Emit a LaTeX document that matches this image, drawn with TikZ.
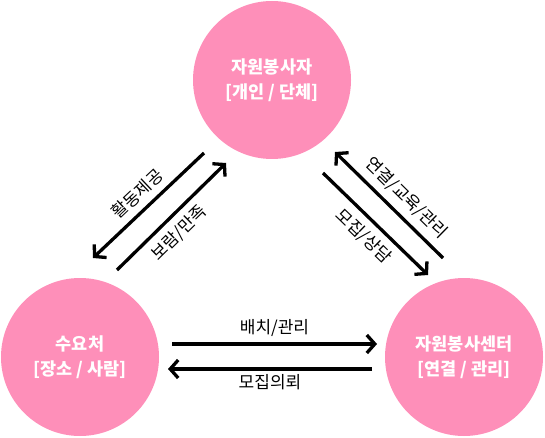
\documentclass[tikz,border=0pt]{standalone}
\usepackage{fontspec}
\setmainfont{Noto Sans CJK KR}
\usetikzlibrary{arrows.meta,positioning,calc}
\definecolor{vcpink}{HTML}{FE8FB9}
\tikzset{
  party/.style={circle, fill=vcpink, minimum size=158pt, inner sep=0pt, align=center,
                text=white, font=\fontsize{17.5}{25}\selectfont\bfseries},
  link/.style={-{Straight Barb[length=8pt,width=18pt]}, line width=3.3pt, draw=black},
  lbl/.style={font=\fontsize{17}{18}\selectfont, inner sep=1pt, text=black},
}

\begin{document}
\begin{tikzpicture}[x=1pt, y=-1pt]
  \useasboundingbox (0,0) rectangle (545,438);

  \node[party] (vol) at (272,80) {자원봉사자\\{[개인 / 단체]}};
  \node[party] (dem) at (80,357) {수요처\\{[장소 / 사람]}};
  \node[party] (ctr) at (464,357) {자원봉사센터\\{[연결 / 관리]}};

  % volunteer <-> demand
  \coordinate (vd1) at (204,153);
  \coordinate (vd2) at (93,258);
  \coordinate (dv1) at (117,270);
  \coordinate (dv2) at (226,163);
  % centre <-> volunteer
  \coordinate (cv1) at (443,258);
  \coordinate (cv2) at (335,152);
  \coordinate (vc1) at (323,173);
  \coordinate (vc2) at (428,275);
  % demand <-> centre
  \coordinate (dc1) at (172,344);
  \coordinate (dc2) at (377,344);
  \coordinate (cd1) at (372,369);
  \coordinate (cd2) at (168,369);

  \draw[link] (vd1) -- node[lbl, sloped, above=6pt] {활동제공} (vd2);
  \draw[link] (dv1) -- node[lbl, sloped, below=6pt, pos=0.46] {보람/만족} (dv2);
  \draw[link] (cv1) -- node[lbl, sloped, above=6pt, pos=0.45] {연결/교육/관리} (cv2);
  \draw[link] (vc1) -- node[lbl, sloped, below=6pt] {모집/상담} (vc2);
  \draw[link] (dc1) -- node[lbl, above=5pt] {배치/관리} (dc2);
  \draw[link] (cd1) -- node[lbl, below=3pt] {모집의뢰} (cd2);
\end{tikzpicture}
\end{document}
